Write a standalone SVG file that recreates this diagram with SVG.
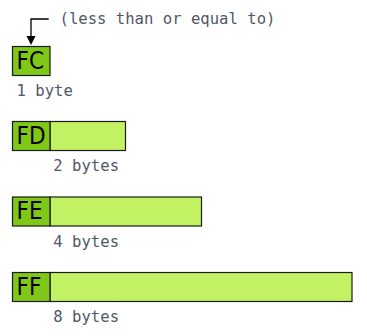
<svg xmlns="http://www.w3.org/2000/svg" width="367" height="336" viewBox="0 0 367 336">
  <style>
    .tag { fill: #80c818; stroke: #1a1a1a; stroke-width: 1.2; }
    .body { fill: #c2f264; stroke: #1a1a1a; stroke-width: 1.2; }
    .code { font-family: "DejaVu Sans Condensed", "DejaVu Sans", sans-serif; font-size: 24px; fill: #000; }
    .note { font-family: "DejaVu Sans Mono", "Liberation Mono", monospace; font-size: 15.6px; fill: #4f5868; }
  </style>

  <rect width="367" height="336" fill="#fff"/>

  <g id="connectors">
    <path d="M48.7,19 H31 V36" fill="none" stroke="#000" stroke-width="1.3"/>
    <path d="M26.5,36 H35.5 L31,45 Z" fill="#000"/>
  </g>

  <g id="note">
    <text class="note" x="59.5" y="24">(less than or equal to)</text>
  </g>

  <g id="fc">
    <rect class="tag" x="12.5" y="46.5" width="37.5" height="29"/>
    <text class="code" x="16.5" y="68.5">FC</text>
    <text class="note" x="16.5" y="96">1 byte</text>
  </g>

  <g id="fd">
    <rect class="body" x="50" y="121.5" width="75.5" height="29"/>
    <rect class="tag" x="12.5" y="121.5" width="37.5" height="29"/>
    <text class="code" x="16.5" y="143.5">FD</text>
    <text class="note" x="53.3" y="171">2 bytes</text>
  </g>

  <g id="fe">
    <rect class="body" x="50" y="197" width="151.5" height="29"/>
    <rect class="tag" x="12.5" y="197" width="37.5" height="29"/>
    <text class="code" x="16.5" y="219">FE</text>
    <text class="note" x="53.3" y="246.5">4 bytes</text>
  </g>

  <g id="ff">
    <rect class="body" x="50" y="272.5" width="302" height="29"/>
    <rect class="tag" x="12.5" y="272.5" width="37.5" height="29"/>
    <text class="code" x="16.5" y="294.5">FF</text>
    <text class="note" x="53.3" y="322">8 bytes</text>
  </g>
</svg>
